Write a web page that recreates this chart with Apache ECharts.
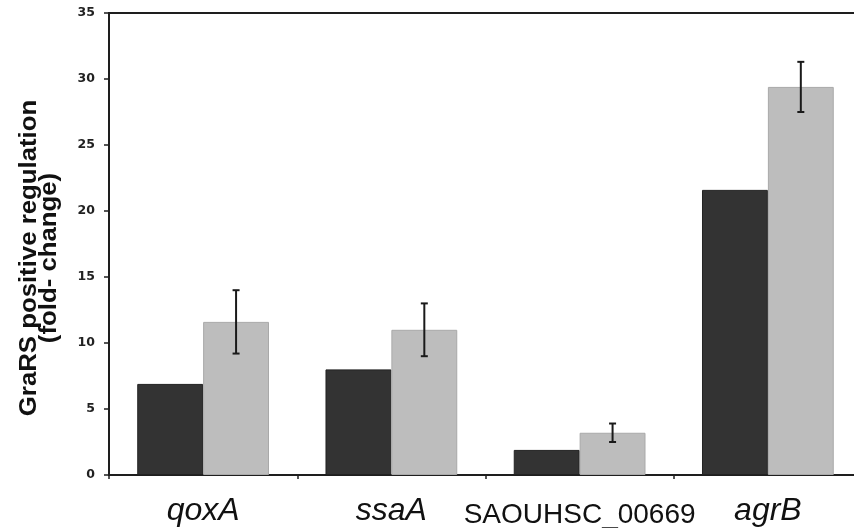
<!DOCTYPE html>
<html>
<head>
<meta charset="utf-8">
<script src="https://cdn.jsdelivr.net/npm/echarts@6/dist/echarts.min.js"></script>
<style>
html,body{margin:0;padding:0;background:#fff;overflow:hidden;}
#c{width:854px;height:528px;}
</style>
</head>
<body>
<div id="c"></div>
<script>
// ---- data ----
var categories = ['qoxA', 'ssaA', 'SAOUHSC_00669', 'agrB'];
var italicLabel = [true, true, false, true];
var darkValues = [6.9, 8.0, 1.9, 21.6];
var lightValues = [11.6, 11.0, 3.2, 29.4];
var lightErrors = [2.4, 2.0, 0.7, 1.9];
var yTicks = [0, 5, 10, 15, 20, 25, 30, 35];
var yTitle = 'GraRS positive regulation\n(fold- change)';

var chart = echarts.init(document.getElementById('c'), null, {renderer: 'canvas'});

var errData = categories.map(function (c, i) {
  return [i, lightValues[i] - lightErrors[i], lightValues[i] + lightErrors[i]];
});

var BAR_FRAC = 0.35; // each bar's share of a category band (30% gap, 0 gap between bars)

var option = {
  animation: false,
  backgroundColor: '#ffffff',
  grid: {
    left: 109, width: 753, top: 13, height: 462,
    outerBoundsMode: 'none',
    containLabel: false,
    show: true, borderColor: '#1e1e1e', borderWidth: 2, backgroundColor: 'transparent'
  },
  xAxis: {
    type: 'category',
    data: categories,
    boundaryGap: true,
    axisLine: {show: true, lineStyle: {color: '#1e1e1e', width: 2}},
    axisTick: {show: true, length: 4, lineStyle: {color: '#1e1e1e', width: 1.5}},
    axisLabel: {
      interval: 0,
      margin: 20,
      formatter: function (v, idx) {
        var i = categories.indexOf(v);
        return italicLabel[i] ? '{it|' + v + '}' : '{n|' + v + '}';
      },
      rich: {
        it: {fontFamily: '"Liberation Sans", Arial, sans-serif', fontStyle: 'italic', fontSize: 32, color: '#111'},
        n: {fontFamily: '"Liberation Sans", Arial, sans-serif', fontSize: 28, color: '#111', padding: [6, 0, 0, 0]}
      }
    },
    splitLine: {show: false}
  },
  yAxis: {
    type: 'value',
    min: yTicks[0],
    max: yTicks[yTicks.length - 1],
    interval: yTicks[1] - yTicks[0],
    axisLine: {show: true, lineStyle: {color: '#1e1e1e', width: 2}},
    axisTick: {show: true, inside: false, length: 5, lineStyle: {color: '#1e1e1e', width: 1.5}},
    axisLabel: {
      margin: 14,
      fontFamily: '"DejaVu Sans", Verdana, sans-serif',
      fontWeight: 'bold',
      fontSize: 12.5,
      color: '#222'
    },
    splitLine: {show: false}
  },
  series: [
    {
      type: 'bar',
      data: darkValues,
      barCategoryGap: '30%',
      barGap: '0%',
      itemStyle: {color: '#333333', borderColor: '#222222', borderWidth: 1}
    },
    {
      type: 'bar',
      data: lightValues,
      barCategoryGap: '30%',
      barGap: '0%',
      itemStyle: {color: '#bdbdbd', borderColor: '#a9a9a9', borderWidth: 1}
    },
    {
      type: 'custom',
      data: errData,
      z: 10,
      renderItem: function (params, api) {
        var idx = api.value(0);
        var lo = api.coord([idx, api.value(1)]);
        var hi = api.coord([idx, api.value(2)]);
        var band = api.size([1, 0])[0];
        var x = lo[0] + band * BAR_FRAC / 2;
        var cap = 3.5;
        var st = {stroke: '#1a1a1a', lineWidth: 2};
        return {
          type: 'group',
          children: [
            {type: 'line', shape: {x1: x, y1: lo[1], x2: x, y2: hi[1]}, style: st},
            {type: 'line', shape: {x1: x - cap, y1: lo[1], x2: x + cap, y2: lo[1]}, style: st},
            {type: 'line', shape: {x1: x - cap, y1: hi[1], x2: x + cap, y2: hi[1]}, style: st}
          ]
        };
      }
    }
  ],
  graphic: [
    {
      type: 'text',
      x: 40,
      y: 258,
      rotation: Math.PI / 2,
      scaleX: 1.12,
      style: {
        text: yTitle,
        font: 'bold 23px "Liberation Sans", Arial, sans-serif',
        fill: '#111',
        textAlign: 'center',
        textVerticalAlign: 'middle',
        lineHeight: 20
      }
    }
  ]
};

chart.setOption(option);
</script>
</body>
</html>
